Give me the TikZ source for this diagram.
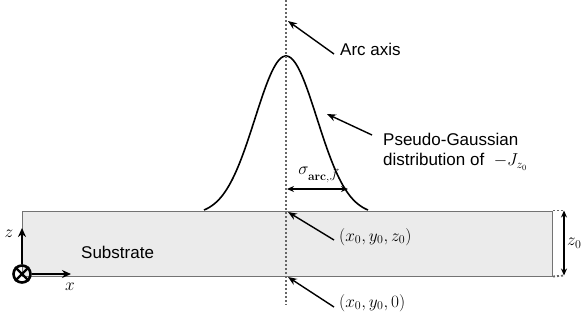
\documentclass[tikz,border=0pt]{standalone}
\usepackage[no-math]{fontspec}
\setmainfont{Liberation Sans}
\usetikzlibrary{arrows.meta}
\begin{document}
\begin{tikzpicture}[x=1pt,y=-1pt,
  txt/.style={font=\fontsize{17}{20}\selectfont, inner sep=0pt},
  mth/.style={font=\fontsize{18.5}{21}\selectfont, inner sep=0pt},
  pointer/.style={line width=1.4pt, -{Stealth[length=9pt,width=7pt]}},
  dimarrow/.style={line width=1.4pt, {Stealth[length=7pt,width=6pt]}-{Stealth[length=7pt,width=6pt]}},
  axisline/.style={line width=2.4pt, dash pattern=on 2pt off 2pt, black!60},
  dimline/.style={line width=1.8pt, dash pattern=on 2pt off 2pt, black!60}]
\useasboundingbox (0,0) rectangle (583,322);
% substrate
\node[draw=black!55, line width=1pt, fill=black!8, minimum width=530pt, minimum height=65pt, anchor=north west, inner sep=0pt] (sub) at (22,210.5) {};
\node[txt, anchor=west] (subl) at (81,252) {Substrate};
% gaussian
\draw[line width=1.6pt] plot[domain=-82:82, samples=120, smooth] ({286+\x}, {210-154*(exp(-(\x)*(\x)/1922)-0.0302)/(1-0.0302)});
% arc axis
\coordinate (axtop) at (286,0);
\coordinate (axbot) at (286,305);
\draw[axisline] (axtop) -- (axbot);
% arc axis label
\node[txt, anchor=west] (arcl) at (340,49) {Arc axis};
\coordinate (arctip) at (288,21);
\draw[pointer] ([xshift=-6pt,yshift=-5pt]arcl.west) -- (arctip);
% pseudo gaussian label
\node[txt, anchor=west, align=left] (pgl) at (383,152) {Pseudo-Gaussian\\distribution of \ $-J_{z_0}$};
\coordinate (pgtip) at (327,114);
\coordinate (pgtail) at (372,135);
\draw[pointer] (pgtail) -- (pgtip);
% sigma
\coordinate (sigl) at (287,189);
\coordinate (sigr) at (348,189);
\draw[dimarrow] (sigl) -- (sigr);
\node[mth, anchor=south] (sigma) at (318,183) {$\sigma_{\mathbf{arc},\vec{J}}$};
% points
\node[mth, anchor=west] (p1) at (339,237) {$(x_0,y_0,z_0)$};
\coordinate (p1tip) at (288,212);
\draw[pointer] ([xshift=-5pt,yshift=-3pt]p1.west) -- (p1tip);
\node[mth, anchor=west] (p2) at (339,303) {$(x_0,y_0,0)$};
\coordinate (p2tip) at (288,277);
\draw[pointer] ([xshift=-5pt,yshift=-4pt]p2.west) -- (p2tip);
% z0 dimension
\coordinate (zt) at (564,210.5);
\coordinate (zb) at (564,275.5);
\draw[dimline] (sub.north east) -- (zt);
\draw[dimline] (sub.south east) -- (zb);
\draw[dimarrow] (zt) -- (zb);
\node[mth, anchor=west] (z0l) at (567,243) {$z_0$};
% coordinate system
\node[draw, circle, line width=2.6pt, minimum size=17pt, inner sep=0pt] (orig) at (22,274) {};
\draw[line width=2.2pt] (orig.north east) -- (orig.south west) (orig.north west) -- (orig.south east);
\coordinate (zend) at (22,228);
\coordinate (xend) at (71,274);
\draw[line width=1.8pt, -{Stealth[length=9pt,width=8pt]}] (orig.north) -- (zend);
\draw[line width=1.8pt, -{Stealth[length=9pt,width=8pt]}] (orig.east) -- (xend);
\node[mth] (zl) at (9,234) {$z$};
\node[mth] (xl) at (70,287) {$x$};
\end{tikzpicture}
\end{document}
